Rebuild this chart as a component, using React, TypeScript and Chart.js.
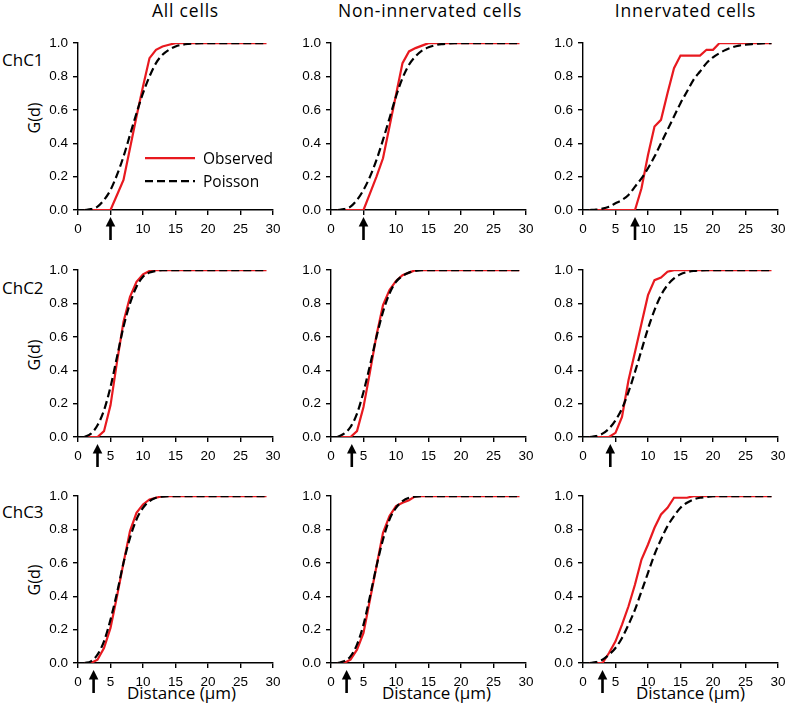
import React, { useEffect, useRef } from "react";
import { Chart, registerables } from "chart.js";

Chart.register(...registerables);

// ---------------- data ----------------
const distance = [1, 2, 3, 4, 5, 6, 7, 8, 9, 10, 11, 12, 13, 14, 15, 16, 17, 18, 19, 20, 21, 22, 23, 24, 25, 26, 27, 28, 29];

const columnTitles = ["All cells", "Non-innervated cells", "Innervated cells"];
const rowLabels = ["ChC1", "ChC2", "ChC3"];
const seriesNames = ["Observed", "Poisson"];
const xAxisTitle = "Distance (\u00b5m)";
const yAxisTitle = "G(d)";
const xTickValues = [0, 5, 10, 15, 20, 25, 30];
const yTickLabels = ["0.0", "0.2", "0.4", "0.6", "0.8", "1.0"];

// ChC1
const obsAllChC1 = [0, 0, 0, 0, 0, 0.09, 0.18, 0.37, 0.56, 0.74, 0.91, 0.96, 0.98, 0.99, 1, 1, 1, 1, 1, 1, 1, 1, 1, 1, 1, 1, 1, 1, 1];
const poiAllChC1 = [0, 0.005, 0.02, 0.06, 0.12, 0.21, 0.32, 0.45, 0.58, 0.7, 0.8, 0.88, 0.93, 0.96, 0.98, 0.99, 0.995, 0.998, 1, 1, 1, 1, 1, 1, 1, 1, 1, 1, 1];
const obsNonChC1 = [0, 0, 0, 0, 0, 0.1, 0.2, 0.31, 0.5, 0.69, 0.88, 0.95, 0.97, 0.985, 1, 1, 1, 1, 1, 1, 1, 1, 1, 1, 1, 1, 1, 1, 1];
const poiNonChC1 = [0, 0.005, 0.02, 0.06, 0.12, 0.2, 0.3, 0.42, 0.55, 0.68, 0.79, 0.87, 0.92, 0.955, 0.975, 0.987, 0.994, 0.997, 1, 1, 1, 1, 1, 1, 1, 1, 1, 1, 1];
const obsInnChC1 = [0, 0, 0, 0, 0, 0, 0, 0, 0.13, 0.33, 0.5, 0.54, 0.7, 0.85, 0.925, 0.925, 0.925, 0.925, 0.96, 0.96, 1, 1, 1, 1, 1, 1, 1, 1, 1];
const poiInnChC1 = [0, 0.002, 0.008, 0.02, 0.04, 0.06, 0.09, 0.14, 0.19, 0.25, 0.32, 0.4, 0.48, 0.56, 0.64, 0.71, 0.78, 0.83, 0.88, 0.915, 0.94, 0.96, 0.975, 0.985, 0.99, 0.994, 0.997, 0.999, 1];

// ChC2
const obsAllChC2 = [0, 0, 0, 0.035, 0.19, 0.45, 0.69, 0.84, 0.93, 0.975, 0.995, 1, 1, 1, 1, 1, 1, 1, 1, 1, 1, 1, 1, 1, 1, 1, 1, 1, 1];
const poiAllChC2 = [0, 0.02, 0.07, 0.16, 0.3, 0.48, 0.66, 0.8, 0.9, 0.96, 0.985, 0.995, 1, 1, 1, 1, 1, 1, 1, 1, 1, 1, 1, 1, 1, 1, 1, 1, 1];
const obsNonChC2 = [0, 0, 0, 0.035, 0.18, 0.39, 0.61, 0.79, 0.88, 0.935, 0.97, 0.985, 1, 1, 1, 1, 1, 1, 1, 1, 1, 1, 1, 1, 1, 1, 1, 1, 1];
const poiNonChC2 = [0, 0.02, 0.06, 0.14, 0.27, 0.43, 0.6, 0.75, 0.86, 0.93, 0.965, 0.985, 0.995, 1, 1, 1, 1, 1, 1, 1, 1, 1, 1, 1, 1, 1, 1, 1, 1];
const obsInnChC2 = [0, 0, 0, 0, 0.025, 0.12, 0.34, 0.51, 0.68, 0.85, 0.94, 0.955, 0.99, 1, 1, 1, 1, 1, 1, 1, 1, 1, 1, 1, 1, 1, 1, 1, 1];
const poiInnChC2 = [0, 0.005, 0.02, 0.05, 0.1, 0.17, 0.27, 0.39, 0.52, 0.65, 0.76, 0.85, 0.91, 0.95, 0.975, 0.988, 0.995, 0.998, 1, 1, 1, 1, 1, 1, 1, 1, 1, 1, 1];

// ChC3
const obsAllChC3 = [0, 0, 0.02, 0.09, 0.21, 0.4, 0.6, 0.79, 0.9, 0.95, 0.98, 0.99, 1, 1, 1, 1, 1, 1, 1, 1, 1, 1, 1, 1, 1, 1, 1, 1, 1];
const poiAllChC3 = [0, 0.01, 0.05, 0.13, 0.26, 0.42, 0.6, 0.75, 0.86, 0.93, 0.97, 0.99, 0.997, 1, 1, 1, 1, 1, 1, 1, 1, 1, 1, 1, 1, 1, 1, 1, 1];
const obsNonChC3 = [0, 0, 0.02, 0.08, 0.18, 0.38, 0.58, 0.78, 0.88, 0.94, 0.96, 0.975, 1, 1, 1, 1, 1, 1, 1, 1, 1, 1, 1, 1, 1, 1, 1, 1, 1];
const poiNonChC3 = [0, 0.01, 0.04, 0.11, 0.23, 0.4, 0.58, 0.74, 0.86, 0.93, 0.97, 0.99, 0.997, 1, 1, 1, 1, 1, 1, 1, 1, 1, 1, 1, 1, 1, 1, 1, 1];
const obsInnChC3 = [0, 0, 0, 0.06, 0.13, 0.23, 0.34, 0.47, 0.62, 0.71, 0.81, 0.89, 0.93, 0.99, 0.99, 0.99, 1, 1, 1, 1, 1, 1, 1, 1, 1, 1, 1, 1, 1];
const poiInnChC3 = [0, 0.005, 0.02, 0.05, 0.09, 0.15, 0.23, 0.32, 0.43, 0.54, 0.65, 0.74, 0.82, 0.88, 0.93, 0.96, 0.98, 0.99, 0.995, 1, 1, 1, 1, 1, 1, 1, 1, 1, 1];

// arrow marks (distance where observed starts rising), row-major
const arrowMarks = [5, 5, 8, 3, 3.2, 4.2, 2.4, 2.4, 3];

const observedSeries = [obsAllChC1, obsNonChC1, obsInnChC1, obsAllChC2, obsNonChC2, obsInnChC2, obsAllChC3, obsNonChC3, obsInnChC3];
const poissonSeries = [poiAllChC1, poiNonChC1, poiInnChC1, poiAllChC2, poiNonChC2, poiInnChC2, poiAllChC3, poiNonChC3, poiInnChC3];

// ---------------- layout ----------------
const colLeft = [78, 331, 583];
const rowTop = [42, 269, 495];
const PLOT_W = 195;
const PLOT_H = 168;
const AXIS_W = 50;
const AXIS_H = 42;
const PAD_T = 12;
const PAD_R = 16;
const CW = AXIS_W + PLOT_W + PAD_R;
const CH = PAD_T + PLOT_H + AXIS_H;
const ARROW_CLEARANCE = 1.2; // tick labels this close to an arrow are covered by it

const RED = "#e8191f";
const TEXT_FONT = "'Open Sans', 'Noto Sans', sans-serif";
const TICK_FONT = "'Liberation Sans', Arial, sans-serif";

const titleCenterX = [185.5, 430, 685.5];
const xTitleCenterX = [181.5, 436.5, 690.5];
const rowLabelY = [60, 288, 512];
const yTitleY = [118, 355, 580];

const arrowPlugin = {
  id: "arrowMark",
  afterDraw(chart: any, _args: any, opts: any) {
    const { ctx, chartArea, scales } = chart;
    const x = scales.x.getPixelForValue(opts.value);
    const tipY = chartArea.bottom + 7;
    const tailY = chartArea.bottom + 30;
    ctx.save();
    ctx.fillStyle = "#000";
    ctx.strokeStyle = "#000";
    ctx.lineWidth = 2.6;
    ctx.beginPath();
    ctx.moveTo(x, tipY + 7);
    ctx.lineTo(x, tailY);
    ctx.stroke();
    ctx.beginPath();
    ctx.moveTo(x, tipY);
    ctx.lineTo(x - 4.8, tipY + 9.5);
    ctx.lineTo(x + 4.8, tipY + 9.5);
    ctx.closePath();
    ctx.fill();
    ctx.restore();
  },
};

const legendPlugin = {
  id: "inlineLegend",
  afterDatasetsDraw(chart: any) {
    const { ctx, chartArea } = chart;
    chart.data.datasets.forEach((ds: any, i: number) => {
      const y = chartArea.top + 115 + i * 23;
      ctx.save();
      ctx.strokeStyle = ds.borderColor;
      ctx.lineWidth = ds.borderWidth;
      ctx.setLineDash(ds.borderDash || []);
      ctx.beginPath();
      ctx.moveTo(chartArea.left + 67, y);
      ctx.lineTo(chartArea.left + 117, y);
      ctx.stroke();
      ctx.setLineDash([]);
      ctx.fillStyle = "#000";
      ctx.font = "15.5px 'Open Sans'";
      ctx.textAlign = "left";
      ctx.textBaseline = "middle";
      ctx.fillText(ds.label, chartArea.left + 125, y + 1);
      ctx.restore();
    });
  },
};

function Panel({ row, col }: { row: number; col: number }) {
  const ref = useRef<HTMLCanvasElement>(null);
  const idx = row * 3 + col;
  useEffect(() => {
    const canvas = ref.current;
    if (!canvas) return;
    const obs = observedSeries[idx];
    const poi = poissonSeries[idx];
    const arrowAt = arrowMarks[idx];
    const plugins: any[] = [arrowPlugin];
    if (idx === 0) plugins.push(legendPlugin);
    const chart = new Chart(canvas, {
      type: "line",
      data: {
        datasets: [
          {
            label: seriesNames[0],
            data: distance.map((d, i) => ({ x: d, y: obs[i] })),
            borderColor: RED,
            borderWidth: 2.2,
            pointRadius: 0,
            fill: false,
            tension: 0,
            order: 1,
          },
          {
            label: seriesNames[1],
            data: distance.map((d, i) => ({ x: d, y: poi[i] })),
            borderColor: "#000",
            borderWidth: 2.2,
            borderDash: [8, 4],
            pointRadius: 0,
            fill: false,
            cubicInterpolationMode: "monotone",
            order: 0,
          },
        ],
      },
      options: {
        animation: false,
        responsive: false,
        events: [],
        layout: { padding: { top: PAD_T, right: PAD_R, left: 0, bottom: 0 } },
        plugins: {
          legend: { display: false },
          tooltip: { enabled: false },
          arrowMark: { value: arrowAt },
        } as any,
        scales: {
          x: {
            type: "linear",
            min: xTickValues[0],
            max: xTickValues[xTickValues.length - 1],
            border: { display: true, color: "#000", width: 1.4 },
            grid: { display: true, drawOnChartArea: false, drawTicks: true, tickLength: 5, color: "#000", lineWidth: 1.4 },
            ticks: {
              stepSize: xTickValues[1] - xTickValues[0],
              color: "#000",
              font: { family: TICK_FONT, size: 13.5 },
              padding: 6,
              maxRotation: 0,
              autoSkip: false,
              callback: (v: any) => (Math.abs(Number(v) - arrowAt) < ARROW_CLEARANCE ? "" : String(v)),
            },
            afterFit: (s: any) => {
              s.height = AXIS_H;
            },
          },
          y: {
            type: "linear",
            min: 0,
            max: 1,
            border: { display: true, color: "#000", width: 1.4 },
            grid: { display: true, drawOnChartArea: false, drawTicks: true, tickLength: 5, color: "#000", lineWidth: 1.4 },
            ticks: {
              stepSize: 0.2,
              color: "#000",
              font: { family: TICK_FONT, size: 13.5 },
              padding: 5,
              callback: (v: any) => yTickLabels[Math.round(Number(v) / 0.2)] ?? Number(v).toFixed(1),
            },
            afterFit: (s: any) => {
              s.width = AXIS_W;
            },
          },
        },
      } as any,
      plugins,
    } as any);
    return () => chart.destroy();
  }, [idx]);
  return (
    <canvas
      ref={ref}
      width={CW}
      height={CH}
      style={{ position: "absolute", left: colLeft[col] - AXIS_W, top: rowTop[row] - PAD_T, width: CW, height: CH }}
    />
  );
}

const textBase: React.CSSProperties = {
  position: "absolute",
  fontFamily: TEXT_FONT,
  color: "#000",
  whiteSpace: "nowrap",
  lineHeight: 1,
};

export default function App() {
  const cells: React.ReactNode[] = [];
  for (let r = 0; r < 3; r++) for (let c = 0; c < 3; c++) cells.push(<Panel key={`p${r}${c}`} row={r} col={c} />);
  return (
    <div style={{ position: "absolute", left: 0, top: 0, width: 787, height: 717, background: "#fff", overflow: "hidden" }}>
      {columnTitles.map((t, c) => (
        <div key={`t${c}`} style={{ ...textBase, fontSize: 17.5, letterSpacing: 0.8, left: titleCenterX[c], top: 2, transform: "translateX(-50%)" }}>
          {t}
        </div>
      ))}
      {rowLabels.map((t, r) => (
        <div key={`r${r}`} style={{ ...textBase, fontSize: 17, left: 2, top: rowLabelY[r] - 9 }}>
          {t}
        </div>
      ))}
      {rowLabels.map((_, r) => (
        <div
          key={`y${r}`}
          style={{ ...textBase, fontSize: 16, left: 33.5, top: yTitleY[r], transform: "translate(-50%, -50%) rotate(-90deg)" }}
        >
          {yAxisTitle}
        </div>
      ))}
      {columnTitles.map((_, c) => (
        <div key={`x${c}`} style={{ ...textBase, fontSize: 17, left: xTitleCenterX[c], top: 684, transform: "translateX(-50%)" }}>
          {xAxisTitle}
        </div>
      ))}
      {cells}
    </div>
  );
}
